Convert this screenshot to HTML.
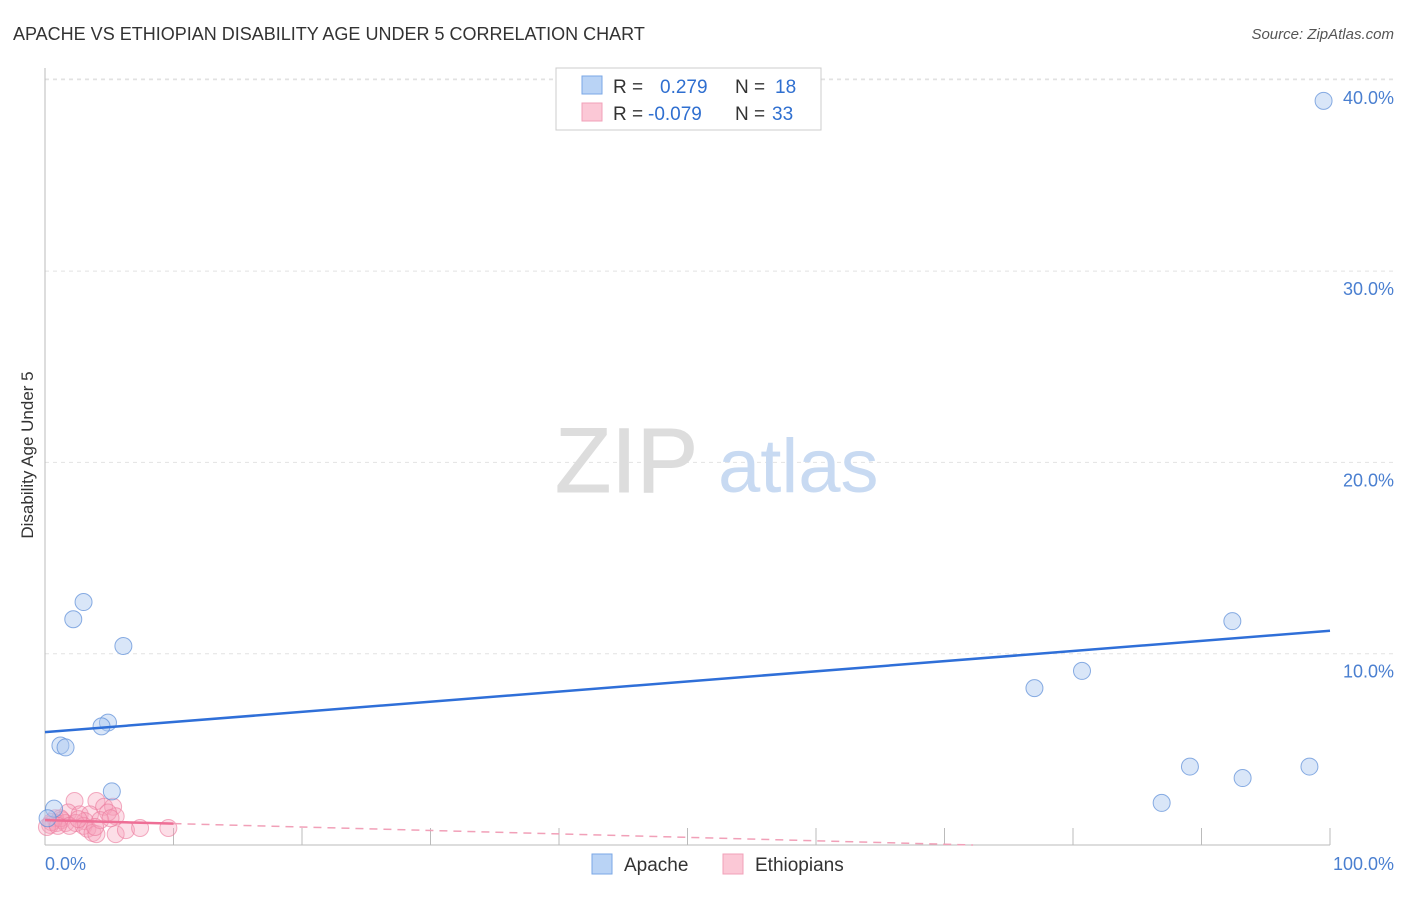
<!DOCTYPE html>
<html><head><meta charset="utf-8"><style>
body{margin:0;background:#fff;font-family:"Liberation Sans",sans-serif;}
svg text{font-family:"Liberation Sans",sans-serif;}
</style></head><body>
<svg width="1406" height="892" viewBox="0 0 1406 892">
<text x="13" y="40" font-size="18" fill="#333">APACHE VS ETHIOPIAN DISABILITY AGE UNDER 5 CORRELATION CHART</text>
<text x="1394" y="39" font-size="15" fill="#555" text-anchor="end" font-style="italic">Source: ZipAtlas.com</text>
<text transform="translate(33,455) rotate(-90)" font-size="17" fill="#333" text-anchor="middle">Disability Age Under 5</text>
<g id="grid"></g>
<g id="ticks"></g>
<line x1="45" y1="68" x2="45" y2="845" stroke="#bbb"/>
<line x1="45" y1="845" x2="1330" y2="845" stroke="#bbb"/>
<text x="555" y="492" font-size="92" fill="#ddd" stroke="#ddd" font-family="Liberation Serif">ZIP</text>
<text x="718" y="492" font-size="76" fill="#c8daf2">atlas</text>
<g id="pts"></g>
<g id="lines"></g>
<text x="45" y="870" font-size="18" fill="#4a7fd0">0.0%</text>
<text x="1394" y="870" font-size="18" fill="#4a7fd0" text-anchor="end">100.0%</text>
<g>
<rect x="556" y="68" width="265" height="62" fill="#fff" stroke="#ccc"/>
<rect x="582" y="76" width="20" height="18" fill="#b9d3f5" stroke="#7aa7e6"/>
<rect x="582" y="103" width="20" height="18" fill="#fbc8d6" stroke="#f1a0b8"/>
<text x="613" y="93" font-size="19" fill="#333">R = <tspan fill="#2f6fd0" x="660">0.279</tspan><tspan fill="#333" x="735">N = </tspan><tspan fill="#2f6fd0" x="775">18</tspan></text>
<text x="613" y="120" font-size="19" fill="#333">R = <tspan fill="#2f6fd0" x="648">-0.079</tspan><tspan fill="#333" x="735">N = </tspan><tspan fill="#2f6fd0" x="772">33</tspan></text>
</g>
<g><rect x="592" y="854" width="20" height="20" fill="#b9d3f5" stroke="#7aa7e6"/><text x="624" y="871" font-size="19" fill="#333">Apache</text></g>
<g><rect x="723" y="854" width="20" height="20" fill="#fbc8d6" stroke="#f1a0b8"/><text x="755" y="871" font-size="19" fill="#333">Ethiopians</text></g>
</svg>
<script>
const yTicks=[10,20,30,40];
const yTickLabels=["10.0%","20.0%","30.0%","40.0%"];
const xTicks=[10,20,30,40,50,60,70,80,90,100];
const apacheX=[99.5,92.4,80.7,77.0,89.1,93.2,98.4,86.9,3.0,2.2,6.1,4.9,4.4,1.2,1.6,5.2,0.7,0.2];
const apacheY=[38.9,11.7,9.1,8.2,4.1,3.5,4.1,2.2,12.7,11.8,10.4,6.4,6.2,5.2,5.1,2.8,1.9,1.4];
const ethX=[2.3,4.0,4.6,5.3,1.8,2.7,3.5,5.5,0.8,1.3,3.1,0.9,1.6,2.4,3.0,3.3,3.7,4.0,5.5,6.3,7.4,9.6,0.4,0.5,1.2,1.9,4.9,4.3,0.15,2.6,3.9,1.0,5.1];
const ethY=[2.3,2.3,2.0,2.0,1.7,1.6,1.6,1.5,1.4,1.3,1.25,1.15,1.15,1.15,1.0,0.85,0.63,0.57,0.57,0.78,0.89,0.89,1.05,1.2,1.4,1.0,1.7,1.3,0.94,1.35,0.94,1.0,1.4];
const apacheTrend=[5.9,11.2];
const ethTrend=[1.3,-0.5];
const NS="http://www.w3.org/2000/svg";
const sx=v=>45+v*12.85, sy=v=>845-v*19.13;
function mk(t,a,p){const e=document.createElementNS(NS,t);for(const k in a)e.setAttribute(k,a[k]);document.getElementById(p).appendChild(e);return e;}
yTicks.forEach((v,i)=>{
 const l=mk('line',{x1:45,x2:1394,y1:sy(v),y2:sy(v),stroke:'#e2e2e2','stroke-dasharray':'4,4'},'grid');
 
 
 const t=mk('text',{x:1394,y:sy(v)+24,'font-size':18,fill:'#4a7fd0','text-anchor':'end'},'grid');
 t.textContent=yTickLabels[i];
 
 
});
const topLine=mk('line',{x1:45,x2:1394,y1:79,y2:79,stroke:'#e2e2e2','stroke-dasharray':'4,4'},'grid');


xTicks.forEach(v=>{
 const l=mk('line',{x1:sx(v),x2:sx(v),y1:845,y2:828,stroke:'#bbb'},'ticks');
 
 
});
ethX.forEach((x,i)=>{
 const c=mk('circle',{cx:sx(x),cy:sy(ethY[i]),r:8.5,fill:'rgba(245,160,185,0.35)',stroke:'rgba(235,120,155,0.6)','stroke-width':1},'pts');
 
 
});
apacheX.forEach((x,i)=>{
 const c=mk('circle',{cx:sx(x),cy:sy(apacheY[i]),r:8.5,fill:'rgba(170,200,240,0.45)',stroke:'rgba(90,140,215,0.7)','stroke-width':1},'pts');
 
 
});
const bl=mk('line',{x1:sx(0),y1:sy(apacheTrend[0]),x2:sx(100),y2:sy(apacheTrend[1]),stroke:'#2f6fd8','stroke-width':2.5},'lines');


const slope=(ethTrend[1]-ethTrend[0])/100;
const xz=-ethTrend[0]/slope;
const ps=mk('line',{x1:sx(0),y1:sy(ethTrend[0]),x2:sx(10),y2:sy(ethTrend[0]+slope*10),stroke:'#ee6f96','stroke-width':2.5},'lines');


const pd=mk('line',{x1:sx(10),y1:sy(ethTrend[0]+slope*10),x2:sx(xz),y2:sy(0),stroke:'#f1a0b8','stroke-width':1.5,'stroke-dasharray':'8,6'},'lines');


</script>
</body></html>
